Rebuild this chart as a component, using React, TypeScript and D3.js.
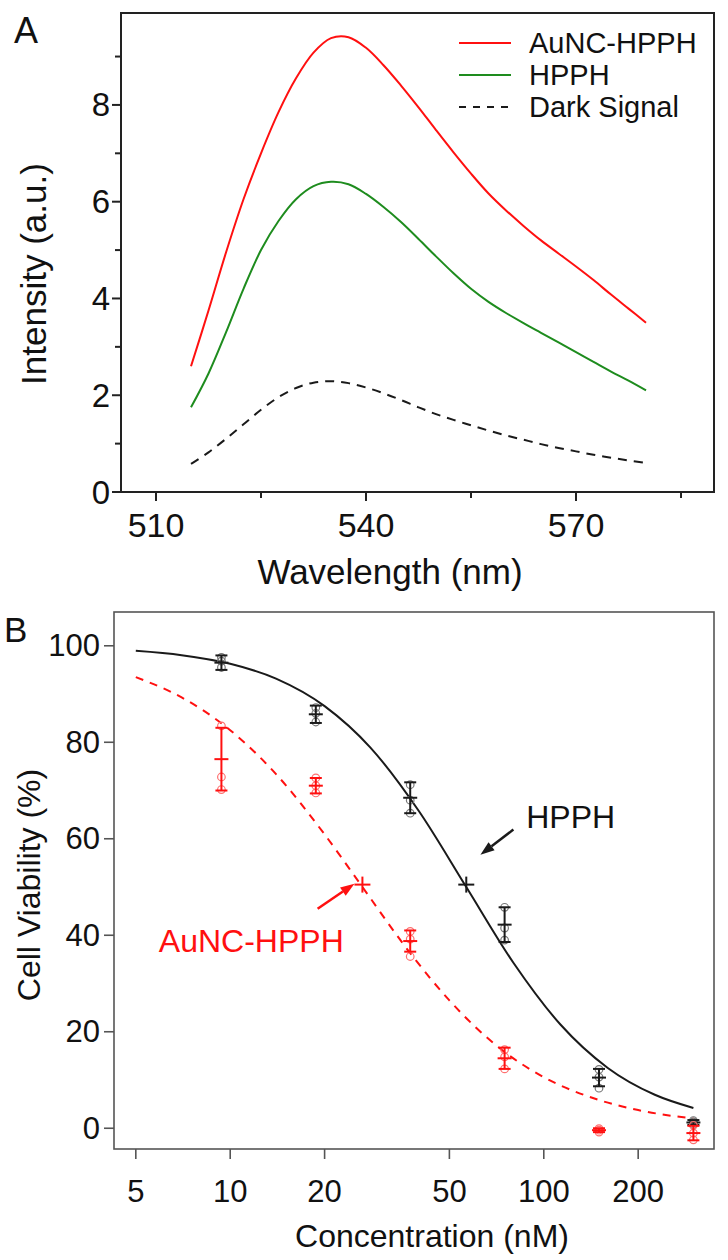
import React from "react";
import * as d3 from "d3";

// ---------- Panel A data ----------
const wavelengths = [515, 517.5, 520, 522.5, 525, 527.5, 530, 532.5, 535, 537.5, 540, 542.5, 545, 547.5, 550, 552.5, 555, 557.5, 560, 562.5, 565, 567.5, 570, 572.5, 575, 577.5, 580];
const auncHpph = [2.6, 3.75, 4.95, 6.05, 7.0, 7.85, 8.55, 9.08, 9.38, 9.4, 9.18, 8.82, 8.4, 7.95, 7.48, 7.02, 6.58, 6.17, 5.82, 5.5, 5.2, 4.93, 4.66, 4.38, 4.08, 3.79, 3.5];
const hpph = [1.75, 2.45, 3.3, 4.2, 5.0, 5.6, 6.05, 6.32, 6.41, 6.36, 6.16, 5.89, 5.58, 5.23, 4.87, 4.52, 4.2, 3.93, 3.7, 3.49, 3.29, 3.09, 2.89, 2.69, 2.49, 2.3, 2.1];
const darkSignal = [0.58, 0.82, 1.1, 1.4, 1.7, 1.96, 2.15, 2.26, 2.29, 2.25, 2.16, 2.04, 1.9, 1.75, 1.61, 1.49, 1.38, 1.27, 1.17, 1.08, 0.99, 0.91, 0.84, 0.77, 0.71, 0.65, 0.6];
const xTicksA = [510, 540, 570];
const xMinorA = [525, 555, 585];
const yTicksA = [0, 2, 4, 6, 8];
const yMinorA = [1, 3, 5, 7, 9];
const legendA = ["AuNC-HPPH", "HPPH", "Dark Signal"];

// ---------- Panel B data ----------
const concentrations = [9.375, 18.75, 37.5, 75, 150, 300];
const hpphMean = [96.5, 85.8, 68.5, 42.2, 10.5, 1.2];
const hpphErr = [1.5, 1.8, 3.2, 3.6, 1.8, 0.5];
const hpphReps = [[95.5, 96.8, 97.6], [84.2, 86.0, 87.2], [65.3, 68.0, 71.2], [39.0, 41.5, 45.8], [8.3, 10.6, 12.2], [0.8, 1.3, 1.6]];
const auncMean = [76.5, 71.0, 38.8, 14.5, -0.4, -1.0];
const auncErr = [6.5, 1.6, 2.2, 2.2, 0.4, 1.5];
const auncReps = [[70.2, 72.8, 83.4], [69.5, 71.0, 72.6], [35.6, 39.2, 40.8], [12.3, 14.8, 16.3], [-0.8, -0.4, -0.1], [-2.4, -1.0, 0.6]];
const hpphFitConc = [5, 7, 10, 14, 20, 28, 40, 56.6, 80, 113, 160, 226, 300];
const hpphFit = [98.95, 98.05, 96.26, 93.2, 87.5, 78.9, 65.7, 50, 34.3, 21.5, 12.5, 6.94, 4.2];
const auncFitConc = [5, 7, 10, 14, 20, 26.4, 37.5, 50, 75, 100, 150, 200, 300];
const auncFit = [93.5, 89.3, 82.5, 73.4, 60.9, 50, 36.3, 26.5, 15.8, 10.6, 5.85, 3.77, 2.0];
const ic50Hpph = [56.6, 50.5];
const ic50Aunc = [26.4, 50.5];
const xTicksB = [5, 10, 20, 50, 100, 200];
const yTicksB = [0, 20, 40, 60, 80, 100];

const FONT = "'Liberation Sans', Arial, Helvetica, sans-serif";
const RED = "#ff1010";
const GREEN = "#1e8c1e";
const BLACK = "#1a1a1a";

export default function App() {
  // Panel A scales
  const axL = 121, axR = 714, ayT = 13, ayB = 492;
  const xA = d3.scaleLinear().domain([505, 589.71]).range([axL, axR]);
  const yA = d3.scaleLinear().domain([0, 9.9]).range([ayB, ayT]);
  const lineA = (vals: number[]) =>
    d3.line<number>().x((_, i) => xA(wavelengths[i])).y((d) => yA(d)).curve(d3.curveCatmullRom.alpha(0.5))(vals) || "";

  // Panel B scales
  const bxL = 114, bxR = 714, byT = 612, byB = 1149;
  const xB = d3.scaleLog().domain([4.26, 349]).range([bxL, bxR]);
  const yB = d3.scaleLinear().domain([-4.3, 107]).range([byB, byT]);
  const fitLine = (cs: number[], vs: number[]) =>
    d3.line<number>().x((_, i) => xB(cs[i])).y((d) => yB(d)).curve(d3.curveMonotoneX)(vs) || "";

  const legendColors = [RED, GREEN, BLACK];
  const legendDash = [undefined, undefined, "7 7"];

  const errGroup = (means: number[], errs: number[], reps: number[][], color: string, repColor: string, key: string) =>
    concentrations.map((c, i) => {
      const x = xB(c);
      const m = means[i];
      const e = errs[i];
      return (
        <g key={key + i}>
          {reps[i].map((r, j) => (
            <circle key={j} cx={x} cy={yB(r)} r={3.8} fill="none" stroke={repColor} strokeWidth={1.2} />
          ))}
          <line x1={x} x2={x} y1={yB(m - e)} y2={yB(m + e)} stroke={color} strokeWidth={2} />
          <line x1={x - 6} x2={x + 6} y1={yB(m - e)} y2={yB(m - e)} stroke={color} strokeWidth={2} />
          <line x1={x - 6} x2={x + 6} y1={yB(m + e)} y2={yB(m + e)} stroke={color} strokeWidth={2} />
          <line x1={x - 7} x2={x + 7} y1={yB(m)} y2={yB(m)} stroke={color} strokeWidth={2} />
        </g>
      );
    });

  const plus = (c: number, v: number, color: string) => {
    const x = xB(c), y = yB(v);
    return (
      <g>
        <line x1={x - 8} x2={x + 8} y1={y} y2={y} stroke={color} strokeWidth={2} />
        <line x1={x} x2={x} y1={y - 8} y2={y + 8} stroke={color} strokeWidth={2} />
      </g>
    );
  };

  const arrow = (c0: number, v0: number, c1: number, v1: number, color: string) => {
    const x0 = xB(c0), y0 = yB(v0), x1 = xB(c1), y1 = yB(v1);
    const ang = Math.atan2(y1 - y0, x1 - x0);
    const hl = 14, hw = 5;
    const bx = x1 - hl * Math.cos(ang), by = y1 - hl * Math.sin(ang);
    const p1 = [bx + hw * Math.sin(ang), by - hw * Math.cos(ang)];
    const p2 = [bx - hw * Math.sin(ang), by + hw * Math.cos(ang)];
    return (
      <g>
        <line x1={x0} y1={y0} x2={bx} y2={by} stroke={color} strokeWidth={2.5} />
        <polygon points={`${x1},${y1} ${p1[0]},${p1[1]} ${p2[0]},${p2[1]}`} fill={color} />
      </g>
    );
  };

  return (
    <svg width={728} height={1260} style={{ position: "absolute", left: 0, top: 0, background: "#fff" }} fontFamily={FONT}>
      <rect x={0} y={0} width={728} height={1260} fill="#fff" />
      {/* ================= Panel A ================= */}
      <text x={14} y={43} fontSize={36} fill="#111">A</text>
      <rect x={axL} y={ayT} width={axR - axL} height={ayB - ayT} fill="none" stroke="#222" strokeWidth={2} />
      {yTicksA.map((t) => (
        <g key={"ya" + t}>
          <line x1={axL - 9} x2={axL} y1={yA(t)} y2={yA(t)} stroke="#222" strokeWidth={2} />
          <text x={axL - 11} y={yA(t)} fontSize={33} textAnchor="end" dominantBaseline="central" fill="#111">{t}</text>
        </g>
      ))}
      {yMinorA.map((t) => (
        <line key={"yam" + t} x1={axL - 6} x2={axL} y1={yA(t)} y2={yA(t)} stroke="#222" strokeWidth={2} />
      ))}
      {xTicksA.map((t) => (
        <g key={"xa" + t}>
          <line x1={xA(t)} x2={xA(t)} y1={ayB} y2={ayB + 9} stroke="#222" strokeWidth={2} />
          <text x={xA(t)} y={537} fontSize={34} textAnchor="middle" fill="#111">{t}</text>
        </g>
      ))}
      {xMinorA.map((t) => (
        <line key={"xam" + t} x1={xA(t)} x2={xA(t)} y1={ayB} y2={ayB + 6} stroke="#222" strokeWidth={2} />
      ))}
      <text x={390} y={584} fontSize={35} textAnchor="middle" fill="#111">Wavelength (nm)</text>
      <text transform="translate(46,274) rotate(-90)" fontSize={35} textAnchor="middle" fill="#111">Intensity (a.u.)</text>

      <path d={lineA(auncHpph)} fill="none" stroke={RED} strokeWidth={2} />
      <path d={lineA(hpph)} fill="none" stroke={GREEN} strokeWidth={2} />
      <path d={lineA(darkSignal)} fill="none" stroke={BLACK} strokeWidth={2} strokeDasharray="9 7" />

      {legendA.map((name, i) => (
        <g key={name}>
          <line x1={459} x2={511} y1={43 + i * 32} y2={43 + i * 32} stroke={legendColors[i]} strokeWidth={2} strokeDasharray={legendDash[i]} />
          <text x={529} y={43 + i * 32} fontSize={29} dominantBaseline="central" fill="#111">{name}</text>
        </g>
      ))}

      {/* ================= Panel B ================= */}
      <text x={4} y={642} fontSize={35} fill="#111">B</text>
      <rect x={bxL} y={byT} width={bxR - bxL} height={byB - byT} fill="none" stroke="#555" strokeWidth={1.6} />
      {yTicksB.map((t) => (
        <g key={"yb" + t}>
          <line x1={bxL - 10} x2={bxL} y1={yB(t)} y2={yB(t)} stroke="#555" strokeWidth={1.6} />
          <text x={bxL - 14} y={yB(t)} fontSize={31} textAnchor="end" dominantBaseline="central" fill="#111">{t}</text>
        </g>
      ))}
      {xTicksB.map((t) => (
        <g key={"xb" + t}>
          <line x1={xB(t)} x2={xB(t)} y1={byB} y2={byB + 10} stroke="#555" strokeWidth={1.6} />
          <text x={xB(t)} y={1202} fontSize={31} textAnchor="middle" fill="#111">{t}</text>
        </g>
      ))}
      <text x={432} y={1247} fontSize={32} textAnchor="middle" fill="#111">Concentration (nM)</text>
      <text transform="translate(40,885) rotate(-90)" fontSize={32} textAnchor="middle" fill="#111">Cell Viability (%)</text>

      <path d={fitLine(hpphFitConc, hpphFit)} fill="none" stroke={BLACK} strokeWidth={2} />
      <path d={fitLine(auncFitConc, auncFit)} fill="none" stroke={RED} strokeWidth={2} strokeDasharray="8 7" />

      {errGroup(hpphMean, hpphErr, hpphReps, BLACK, "#777", "h")}
      {errGroup(auncMean, auncErr, auncReps, RED, "#ff7070", "a")}

      {plus(ic50Hpph[0], ic50Hpph[1], BLACK)}
      {plus(ic50Aunc[0], ic50Aunc[1], RED)}

      {arrow(80, 61.9, 62.8, 56.7, BLACK)}
      {arrow(19.0, 45.5, 24.9, 50.7, RED)}
      <text x={xB(87.9)} y={yB(62.3)} fontSize={32} fill="#111">HPPH</text>
      <text x={xB(5.92)} y={yB(36.6)} fontSize={32} fill={RED}>AuNC-HPPH</text>
    </svg>
  );
}
